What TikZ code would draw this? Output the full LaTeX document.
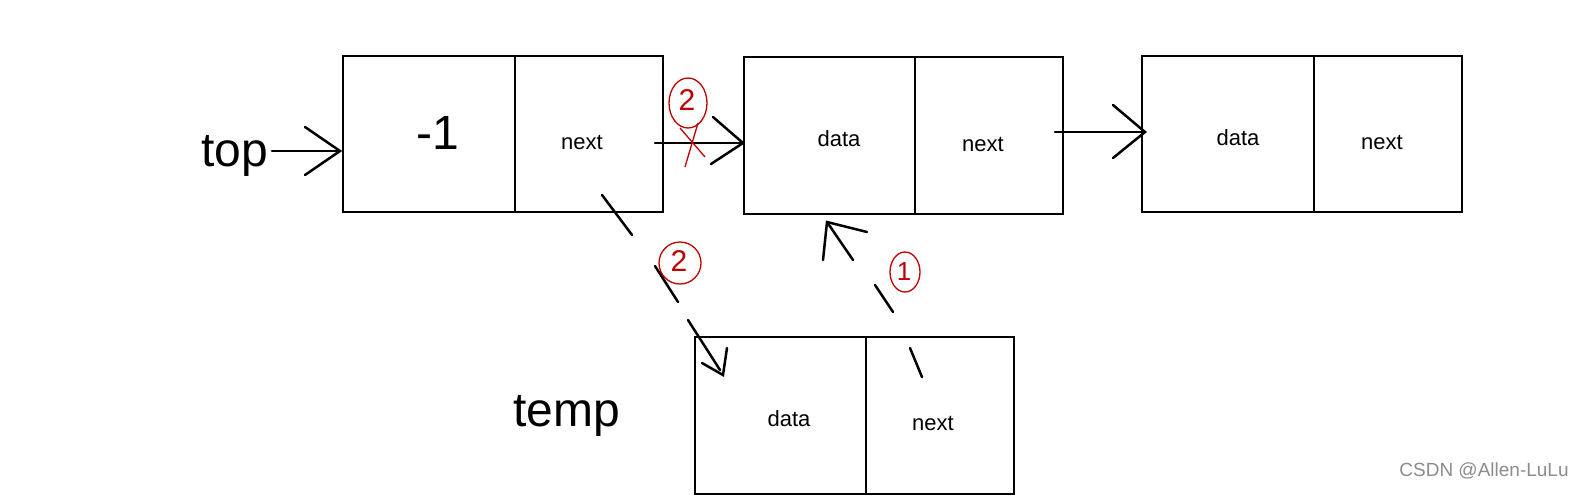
\documentclass[tikz,border=0pt]{standalone}
\usepackage{fontspec}
\setmainfont{Liberation Sans}
\begin{document}
\begin{tikzpicture}[x=1pt,y=-1pt,
  cell/.style={draw=black,line width=2pt,inner sep=0pt,anchor=north west},
  big/.style={font=\fontsize{48}{50}\selectfont,inner sep=0pt},
  small/.style={font=\fontsize{22}{24}\selectfont,inner sep=0pt},
  stroke/.style={line width=2.5pt,line cap=round},
  redmark/.style={draw=red!75!black,line width=1.3pt},
  redtxt/.style={text=red!75!black,font=\fontsize{30}{30}\selectfont,inner sep=0pt}]
\useasboundingbox[fill=white] (0,0) rectangle (1579,496);
% box 1
\node[cell,minimum width=172pt,minimum height=156pt] (b1l) at (342,55) {};
\node[cell,minimum width=148pt,minimum height=156pt] (b1r) at (514,55) {};
% box 2
\node[cell,minimum width=171pt,minimum height=157pt] (b2l) at (743,56) {};
\node[cell,minimum width=148pt,minimum height=157pt] (b2r) at (914,56) {};
% box 3
\node[cell,minimum width=172pt,minimum height=156pt] (b3l) at (1141,55) {};
\node[cell,minimum width=148pt,minimum height=156pt] (b3r) at (1313,55) {};
% temp box
\node[cell,minimum width=171pt,minimum height=157pt] (tl) at (694,336) {};
\node[cell,minimum width=148pt,minimum height=157pt] (tr) at (865,336) {};
% texts
\node[big] (top) at (235,156) {top};
\node[big] (m1) at (438,133) {-1};
\node[small] (n1) at (582,142) {next};
\node[small] (d2) at (839,139) {data};
\node[small] (n2) at (983,144) {next};
\node[small] (d3) at (1238,138) {data};
\node[small] (n3) at (1382,142) {next};
\node[big] (temp) at (567,416) {temp};
\node[small] (dt) at (789,419) {data};
\node[small] (nt) at (933,423) {next};
\node[font=\fontsize{19}{21}\selectfont,text=black!45,inner sep=0pt] (wm) at (1484,471) {CSDN @Allen-LuLu};
% top arrow
\coordinate (a0s) at (272,151);
\coordinate (a0t) at (340,151);
\draw[stroke] (a0s) -- (a0t);
\draw[stroke] (305,127) -- (a0t) -- (305,175);
% next -> data (box2)
\coordinate (a1s) at (655,143);
\coordinate (a1t) at (743,143);
\draw[stroke] (a1s) -- (a1t);
\draw[stroke] (713,117) -- (a1t) -- (711,164);
% box2 -> box3
\coordinate (a2s) at (1055,132);
\coordinate (a2t) at (1145,132);
\draw[stroke] (a2s) -- (a2t);
\draw[stroke] (1113,105) -- (a2t) -- (1113,158);
% red marks: cross and circled 2
\draw[redmark] (680,128) -- (705,157);
\draw[redmark] (698,123) -- (685,167);
\draw[redmark] (688,103) ellipse (19pt and 25pt);
\node[redtxt] (r2a) at (687,100) {2};
% dashed arrow (2): next of box1 -> temp data
\draw[stroke] (602,195) -- (632,235);
\draw[stroke] (655,266) -- (678,302);
\draw[stroke] (688,320) -- (720,370);
\coordinate (a3t) at (723,375);
\draw[stroke] (727,348) -- (a3t) -- (702,363);
\draw[redmark] (680,263) circle (21pt);
\node[redtxt] (r2b) at (679,261) {2};
% dashed arrow (1): temp next -> box2
\draw[stroke] (910,348) -- (922,377);
\draw[stroke] (875,285) -- (893,312);
\coordinate (a4t) at (827,222);
\draw[stroke] (853,260) -- (a4t);
\draw[stroke] (867,232) -- (a4t) -- (823,260);
\draw[redmark] (905,272) ellipse (15pt and 20pt);
\node[redtxt,font=\fontsize{26}{26}\selectfont] (r1) at (904,272) {1};
\end{tikzpicture}
\end{document}
